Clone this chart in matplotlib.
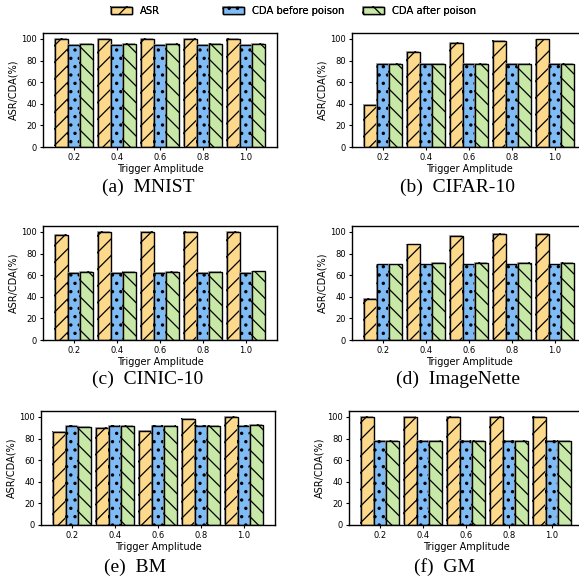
import numpy as np
import matplotlib
matplotlib.use('Agg')
import matplotlib.pyplot as plt
import matplotlib.patheffects as pe

amplitudes = ['0.2', '0.4', '0.6', '0.8', '1.0']
series_names = ['ASR', 'CDA before poison', 'CDA after poison']

titles = ['(a)  MNIST', '(b)  CIFAR-10', '(c)  CINIC-10',
          '(d)  ImageNette', '(e)  BM', '(f)  GM']

asr = [
    [100, 100, 100, 100, 100],
    [39, 88, 96, 98.5, 99.5],
    [97, 100, 100, 100, 100],
    [38, 88.5, 96.5, 98, 98.5],
    [86, 90, 87, 98, 100],
    [100, 100, 100, 100, 100],
]
cda_before = [
    [94.5, 94.5, 94.5, 94.5, 94.5],
    [77, 77, 77, 77, 77],
    [62, 62, 62, 62, 62],
    [70, 70, 70, 70, 70],
    [92, 92, 92, 92, 92],
    [78, 78, 78, 78, 78],
]
cda_after = [
    [95.5, 95.5, 95.5, 95.5, 95.5],
    [77, 77, 77, 77, 77],
    [63, 63, 63, 63, 63.5],
    [70, 71, 71.5, 71.5, 71.5],
    [91, 92, 91.5, 92, 92.5],
    [78, 78, 78, 78, 78],
]

colors = ['#fdd98b', '#7fbcf6', '#c8e8a8']
hatches = ['//', '..', '\\\\']
hatch_lw = [0.9, 1.2, 0.9]

W, H = 579, 583
fig = plt.figure(figsize=(W / 100, H / 100), dpi=100)

# axes boxes in pixels: left, top
boxes = [(43, 33), (352, 33), (43, 226), (352, 226), (41, 411), (349, 411)]
ax_w, ax_h = 234, 114
caption_pos = [(148, 187), (458, 187), (148, 379), (458, 379), (135, 567), (445, 567)]

shadow = [pe.SimplePatchShadow(offset=(-0.6, 0.6), shadow_rgbFace='#999999', alpha=0.8), pe.Normal()]

x = np.arange(len(amplitudes))
bw = 0.29
handles = None
for k in range(6):
    l, t = boxes[k]
    ax = fig.add_axes([l / W, 1 - (t + ax_h) / H, ax_w / W, ax_h / H])
    data = [asr[k], cda_before[k], cda_after[k]]
    bars = []
    for j in range(3):
        with plt.rc_context({'hatch.linewidth': hatch_lw[j]}):
            b = ax.bar(x + (j - 1) * bw, data[j], bw, color=colors[j], hatch=hatches[j],
                       edgecolor='black', linewidth=1.0, label=series_names[j])
        for p in b:
            p.set_path_effects(shadow)
        bars.append(b)
    handles = bars
    ax.set_xlim(-0.72, 4.72)
    ax.set_ylim(0, 105.5)
    ax.set_xticks(x)
    ax.set_xticklabels(amplitudes)
    ax.set_yticks([0, 20, 40, 60, 80, 100])
    ax.tick_params(labelsize=6, length=2.5, width=0.8, pad=2)
    ax.set_xlabel('Trigger Amplitude', fontsize=7, labelpad=1)
    ax.set_ylabel('ASR/CDA(%)', fontsize=7, labelpad=2)
    for s in ax.spines.values():
        s.set_linewidth(1.0)
    cx, cy = caption_pos[k]
    fig.text(cx / W, 1 - cy / H, titles[k], ha='center', va='center',
             fontsize=14, family='Liberation Serif')

# one legend entry per series, spaced like the reference
leg_x = [111, 223, 363]
for j in range(3):
    with plt.rc_context({'hatch.linewidth': hatch_lw[j]}):
        lg = fig.legend([handles[j]], [series_names[j]], loc='center left',
                        bbox_to_anchor=(leg_x[j] / W, 1 - 11 / H), frameon=False,
                        fontsize=7.2, handlelength=2.1, handleheight=0.8,
                        handletextpad=0.8, borderaxespad=0, borderpad=0)
    fig.add_artist(lg)

fig.savefig('out.png', dpi=100)
